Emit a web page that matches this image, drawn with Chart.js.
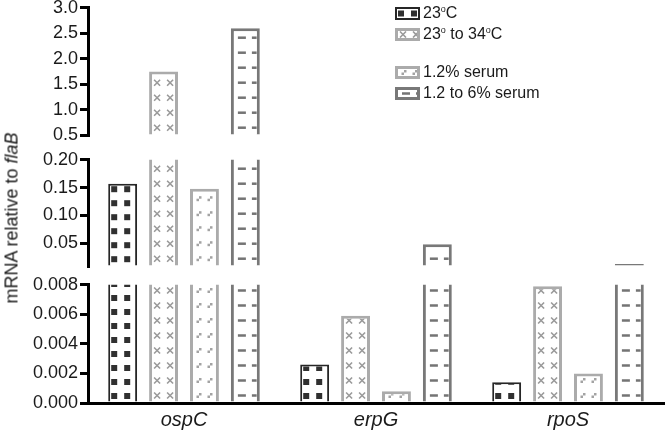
<!DOCTYPE html>
<html>
<head>
<meta charset="utf-8">
<script src="https://cdn.jsdelivr.net/npm/chart.js@4"></script>
<style>
  body { margin: 0; background: #fff; width: 666px; height: 430px; overflow: hidden; position: relative;
         font-family: "Liberation Sans", Arial, sans-serif; color: #1a1a1a; }
  .seg { position: absolute; left: 0; }
  #legend { position: absolute; left: 395px; top: 0; font-size: 16px; }
  .item { position: absolute; left: 0; display: flex; align-items: center; white-space: nowrap; transform: translateY(-50%); }
  .item canvas { margin-right: 3px; }
  .item sup { font-size: 9px; vertical-align: 6px; }
  #ylabel { position: absolute; left: 12px; top: 218px; transform: translate(-50%, -50%) rotate(-90deg);
            font-size: 18px; white-space: nowrap; }
</style>
</head>
<body>
<div class="seg" style="top:-5px"><canvas id="topChart" width="666" height="153"></canvas></div>
<div class="seg" style="top:147px"><canvas id="midChart" width="666" height="132"></canvas></div>
<div class="seg" style="top:272px"><canvas id="lowChart" width="666" height="165"></canvas></div>
<div id="legend"></div>
<div id="ylabel">mRNA relative to <i>flaB</i></div>
<script>
const genes = ["ospC", "erpG", "rpoS"];
const legendLabels = ["23<sup>o</sup>C", "23<sup>o</sup> to 34<sup>o</sup>C", "1.2% serum", "1.2 to 6% serum"];
const legendRows = [13, 34, 72, 93];

const temp23 = [0.157, 0.0026, 0.0014];
const temp23to34 = [1.75, 0.0059, 0.0079];
const serum12 = [0.148, 0.0008, 0.0020];
const serum12to6 = [2.6, 0.048, 0.0125];

const topTicks = [0.5, 1.0, 1.5, 2.0, 2.5, 3.0];
const midTicks = [0.05, 0.10, 0.15, 0.20];
const lowTicks = [0, 0.002, 0.004, 0.006, 0.008];

const topRange = [0.5, 3.0];
const midRange = [0.0085, 0.20];
const lowRange = [0, 0.008];

const styles = [
  { border: "#262626", bw: 2, mark: "square", color: "#303030" },
  { border: "#ababab", bw: 3, mark: "cross", color: "#9a9a9a" },
  { border: "#ababab", bw: 3, mark: "dots", color: "#a3a3a3" },
  { border: "#787878", bw: 3, mark: "dash", color: "#747474" },
];

const FONT = "'Liberation Sans', Arial, sans-serif";

// draws the hatch marks of one bar inside the given box
function drawMarks(ctx, kind, color, xl, xr, yt, yb, baseY) {
  if (xr <= xl || yb <= yt) return;
  ctx.save();
  ctx.beginPath();
  ctx.rect(xl, yt, xr - xl, yb - yt);
  ctx.clip();
  ctx.fillStyle = color;
  ctx.strokeStyle = color;
  ctx.lineWidth = 1.6;
  const p = kind === "square" ? 14 : 15;
  for (let y = baseY - p / 2; y > yt - p; y -= p) {
    if (kind === "square") {
      ctx.fillRect(xl + 1, y - 3, 6, 6);
      ctx.fillRect(xl + 14, y - 3, 6, 6);
    } else if (kind === "cross") {
      [xl + 5, xl + 18].forEach((cx) => {
        ctx.beginPath();
        ctx.moveTo(cx - 3, y - 3); ctx.lineTo(cx + 3, y + 3);
        ctx.moveTo(cx + 3, y - 3); ctx.lineTo(cx - 3, y + 3);
        ctx.stroke();
      });
    } else if (kind === "dots") {
      [xl + 6, xl + 17].forEach((cx) => {
        ctx.fillRect(cx - 2.5, y, 2.5, 2.5);
        ctx.fillRect(cx, y - 2.5, 2.5, 2.5);
      });
    } else {
      ctx.fillRect(xl + 4, y - 1.25, 8, 2.5);
      ctx.fillRect(xl + 18, y - 1.25, xr - xl - 18, 2.5);
    }
  }
  ctx.restore();
}

const hatchPlugin = {
  id: "hatch",
  afterDatasetDraw(chart, args) {
    const st = styles[args.index];
    const area = chart.chartArea;
    const ctx = chart.ctx;
    args.meta.data.forEach((el) => {
      const { x, y, base, width } = el.getProps(["x", "y", "base", "width"], true);
      const xl = x - width / 2 + st.bw;
      const xr = x + width / 2 - st.bw;
      const yt = Math.max(Math.min(y, base) + st.bw, area.top);
      const yb = Math.min(Math.max(y, base), area.bottom);
      drawMarks(ctx, st.mark, st.color, xl, xr, yt, yb, area.bottom);
    });
  },
};

function makeChart(id, range, ticks, decimals, showX, padBottom) {
  const values = [temp23, temp23to34, serum12, serum12to6];
  return new Chart(document.getElementById(id), {
    type: "bar",
    data: {
      labels: genes,
      datasets: values.map((v, i) => ({
        data: v,
        backgroundColor: "#fff",
        borderColor: styles[i].border,
        borderWidth: styles[i].bw,
        categoryPercentage: 0.852,
        barPercentage: 0.707,
        clip: showX ? 0 : { left: 0, top: 0, right: 0, bottom: -1 },
      })),
    },
    options: {
      responsive: false,
      animation: false,
      devicePixelRatio: 1,
      layout: { padding: { left: 0, right: 2, top: 12, bottom: padBottom } },
      plugins: { legend: { display: false }, tooltip: { enabled: false } },
      scales: {
        x: {
          display: showX,
          grid: { display: false, drawTicks: false },
          border: { display: true, color: "#000", width: 3, z: 1 },
          ticks: { color: "#1a1a1a", padding: 5, font: { family: FONT, size: 20, style: "italic" } },
        },
        y: {
          min: range[0],
          max: range[1],
          afterBuildTicks: (s) => { s.ticks = ticks.map((v) => ({ value: v })); },
          afterFit: (s) => { s.width = 88; },
          ticks: {
            color: "#1a1a1a",
            padding: 2,
            font: { family: FONT, size: 18 },
            callback: (v) => Number(v).toFixed(decimals),
          },
          grid: { drawOnChartArea: false, drawTicks: true, tickLength: 8, lineWidth: 3, color: "#000" },
          border: { display: true, color: "#000", width: 3, z: 1 },
        },
      },
    },
    plugins: [hatchPlugin],
  });
}

makeChart("topChart", topRange, topTicks, 1, false, 12);
makeChart("midChart", midRange, midTicks, 2, false, 12);
makeChart("lowChart", lowRange, lowTicks, 3, true, 0);

// legend with hatched swatches
const legend = document.getElementById("legend");
legendLabels.forEach((label, i) => {
  const item = document.createElement("div");
  item.className = "item";
  item.style.top = legendRows[i] + "px";
  const sw = document.createElement("canvas");
  sw.width = 25;
  sw.height = 13;
  const c = sw.getContext("2d");
  const st = styles[i];
  c.fillStyle = "#fff";
  c.fillRect(0, 0, 25, 13);
  drawMarks(c, st.mark, st.color, st.bw, 25 - st.bw, st.bw, 13 - st.bw, 6.5 + (st.mark === "square" ? 7 : 7.5));
  c.strokeStyle = st.border;
  c.lineWidth = st.bw;
  c.strokeRect(st.bw / 2, st.bw / 2, 25 - st.bw, 13 - st.bw);
  const txt = document.createElement("span");
  txt.innerHTML = label;
  item.appendChild(sw);
  item.appendChild(txt);
  legend.appendChild(item);
});
</script>
</body>
</html>
